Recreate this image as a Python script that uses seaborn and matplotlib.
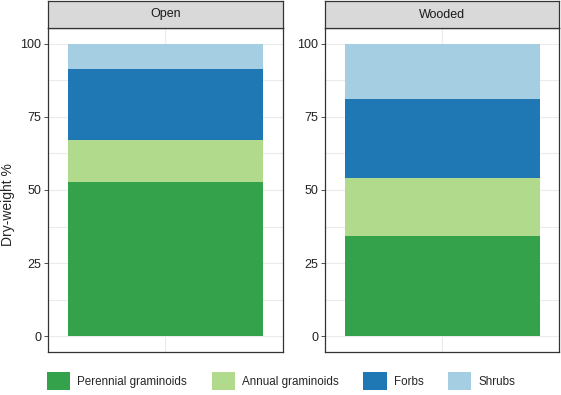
import matplotlib
matplotlib.use("Agg")
import matplotlib.pyplot as plt
import pandas as pd
import numpy as np
import seaborn as sns
from matplotlib.patches import Patch

# values (dry-weight %)
sites = ["Open", "Wooded"]
groups = ["Perennial graminoids", "Annual graminoids", "Forbs", "Shrubs"]
open_vals = [52.9, 14.0, 24.4, 8.7]
wooded_vals = [34.3, 19.9, 27.0, 18.8]
colors = ["#33a24a", "#b2da8c", "#1f78b4", "#a6cee3"]
yticks = [0, 25, 50, 75, 100]

df = pd.DataFrame({"site": np.repeat(sites, len(groups)),
                   "group": groups * 2,
                   "value": open_vals + wooded_vals})

sns.set_theme(style="white")
plt.rcParams["font.family"] = ["Liberation Sans", "DejaVu Sans"]

fig = plt.figure(figsize=(5.61, 3.95), dpi=100)
lefts = [48 / 561, 325 / 561]
widths = [235 / 561, 234 / 561]

for i, site in enumerate(sites):
    ax = fig.add_axes([lefts[i], 43 / 395, widths[i], 324 / 395])
    sub = df[df.site == site].copy()
    sub["cum"] = sub["value"].cumsum()
    # draw from the top layer down so each lower layer covers the rest
    for g, c in reversed(list(zip(groups, colors))):
        row = sub[sub.group == g]
        sns.barplot(data=row, x="site", y="cum", color=c, width=1.0,
                    saturation=1, ax=ax, linewidth=0)
    ax.set_xlim(-0.6, 0.6)
    ax.set_ylim(-5.3, 105.3)
    ax.set_yticks(yticks)
    ax.set_yticks([12.5, 37.5, 62.5, 87.5], minor=True)
    ax.set_xticks([0])
    ax.set_xticklabels([""])
    ax.set_xlabel("")
    ax.set_ylabel("")
    ax.grid(True, which="both", color="#ebebeb", linewidth=0.8)
    ax.set_axisbelow(True)
    ax.tick_params(axis="y", which="major", left=True, length=3, width=0.6,
                   color="#333333", labelsize=9, labelcolor="#222222", pad=2)
    ax.tick_params(axis="y", which="minor", left=False)
    ax.tick_params(axis="x", bottom=False, length=0)
    for s in ax.spines.values():
        s.set_color("#333333")
        s.set_linewidth(0.9)
    # facet strip
    strip = fig.add_axes([lefts[i], 367 / 395, widths[i], 27 / 395])
    strip.set_facecolor("#d9d9d9")
    strip.set_xticks([])
    strip.set_yticks([])
    for s in strip.spines.values():
        s.set_color("#333333")
        s.set_linewidth(0.9)
    strip.text(0.5, 0.5, site, ha="center", va="center", fontsize=9,
               color="#1a1a1a", transform=strip.transAxes)

fig.text(8 / 561, 190 / 395, "Dry-weight %", rotation=90, ha="center",
         va="center", fontsize=10)

handles = [Patch(facecolor=c, edgecolor="none", label=g)
           for g, c in zip(groups, colors)]
fig.legend(handles=handles, loc="center", bbox_to_anchor=(0.501, 0.035),
           ncol=4, frameon=False, fontsize=8.4, handlelength=2.0,
           handleheight=2.0, columnspacing=2.1, handletextpad=0.6)

fig.savefig("out.png", dpi=100)
